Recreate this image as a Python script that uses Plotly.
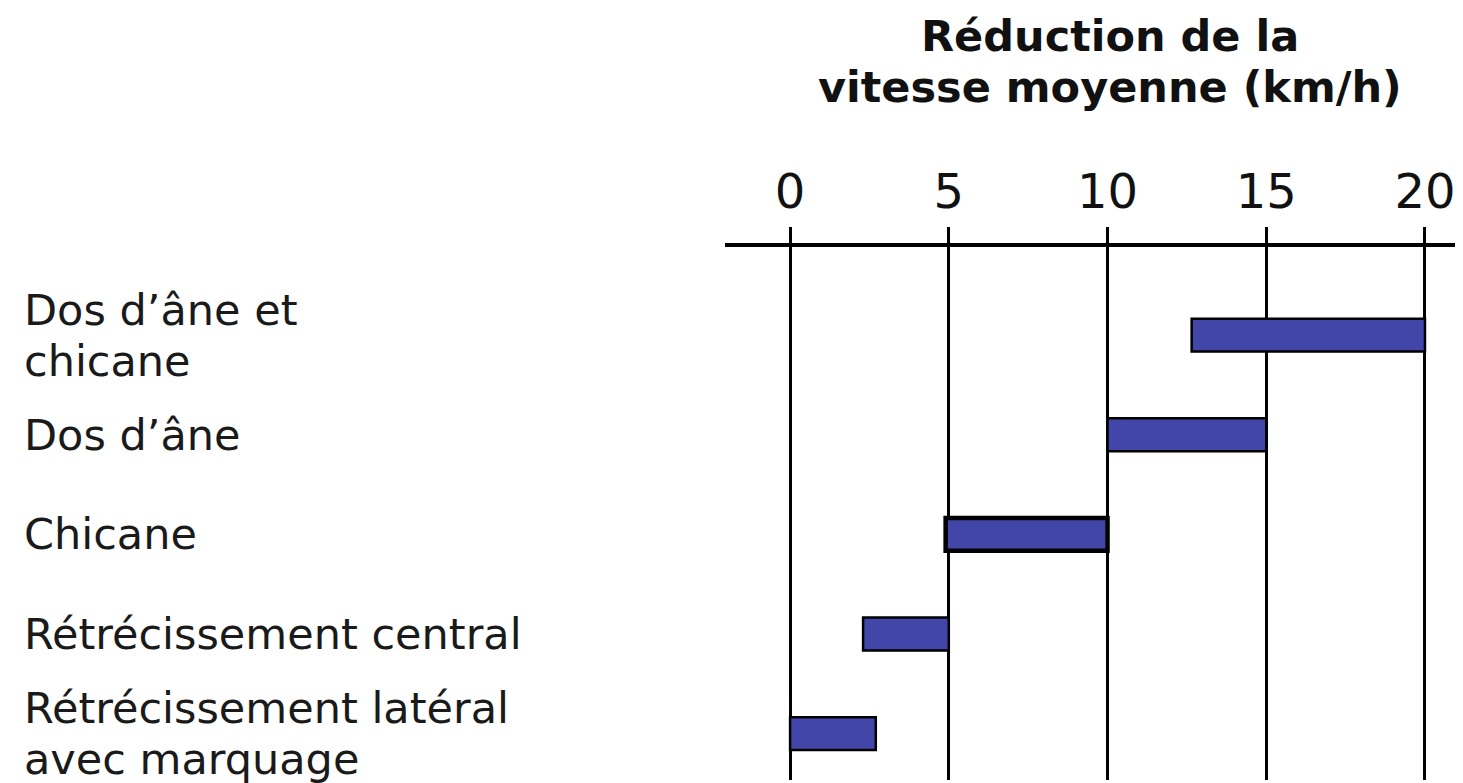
import plotly.graph_objects as go

# ---- data ----
categories = [
    "Dos d’âne et chicane",
    "Dos d’âne",
    "Chicane",
    "Rétrécissement central",
    "Rétrécissement latéral avec marquage",
]
row_labels = [
    "Dos d’âne et\nchicane",
    "Dos d’âne",
    "Chicane",
    "Rétrécissement central",
    "Rétrécissement latéral\navec marquage",
]
reduction_min = [12.65, 10.0, 4.9, 2.3, 0.0]
reduction_max = [20.0, 15.0, 10.0, 5.0, 2.7]
x_ticks = [0, 5, 10, 15, 20]
title_lines = ["Réduction de la", "vitesse moyenne (km/h)"]

# ---- styling ----
W, H = 1463, 783
OFF = 8  # page body margin in the browser
M_L, M_R, M_T, M_B = 725 - OFF, 0, 247 - OFF, 3 + OFF
BAR_COLOR = "#4346A9"
BORDER_W = [2.5, 2.5, 4.5, 2.5, 2.5]
FONT = "DejaVu Sans"
LABEL_SIZE = 43
LINE_GAP = 51

spans = [hi - lo for lo, hi in zip(reduction_min, reduction_max)]

fig = go.Figure(
    go.Bar(
        y=categories,
        x=spans,
        base=reduction_min,
        orientation="h",
        width=0.33,
        marker=dict(color=BAR_COLOR, line=dict(color="black", width=BORDER_W)),
        hoverinfo="skip",
    )
)

plot_w = W - M_L - M_R
plot_h = H - M_T - M_B
label_x = (22 - OFF - M_L) / plot_w

annotations = []
for cat, lab in zip(categories, row_labels):
    lines = lab.split("\n")
    n = len(lines)
    for j, line in enumerate(lines):
        annotations.append(dict(
            text=line, xref="paper", yref="y", x=label_x, y=cat,
            xanchor="left", yanchor="middle", showarrow=False,
            yshift=((n - 1) / 2 - j) * LINE_GAP,
            font=dict(family=FONT, size=LABEL_SIZE, color="#1a1a1a"),
        ))

title_cx = (1110 - OFF - M_L) / plot_w
for j, t in enumerate(title_lines):
    base_y = [50, 101][j] - OFF
    annotations.append(dict(
        text="<b>" + t + "</b>", xref="paper", yref="paper",
        x=title_cx, y=(H - M_B - base_y) / plot_h,
        xanchor="center", yanchor="bottom", showarrow=False, yshift=-13,
        font=dict(family=FONT, size=43, color="#111"),
    ))

fig.update_layout(
    width=W, height=H,
    margin=dict(l=M_L, r=M_R, t=M_T, b=M_B, pad=0),
    paper_bgcolor="white", plot_bgcolor="white",
    showlegend=False,
    annotations=annotations,
    xaxis=dict(
        side="top", range=[-2.05, 21.45],
        tickvals=x_ticks, ticktext=[str(v) for v in x_ticks],
        showgrid=True, gridcolor="black", gridwidth=3,
        showline=True, linecolor="black", linewidth=4,
        ticks="outside", ticklen=16, tickwidth=3, tickcolor="black",
        ticklabelstandoff=0,
        zeroline=False,
        tickfont=dict(family=FONT, size=48, color="#111"),
    ),
    yaxis=dict(
        type="category", categoryarray=categories,
        range=[4.466, -0.885],
        showticklabels=False, showgrid=False, showline=False,
        zeroline=False, ticks="",
    ),
)

fig.write_html("out.html")
